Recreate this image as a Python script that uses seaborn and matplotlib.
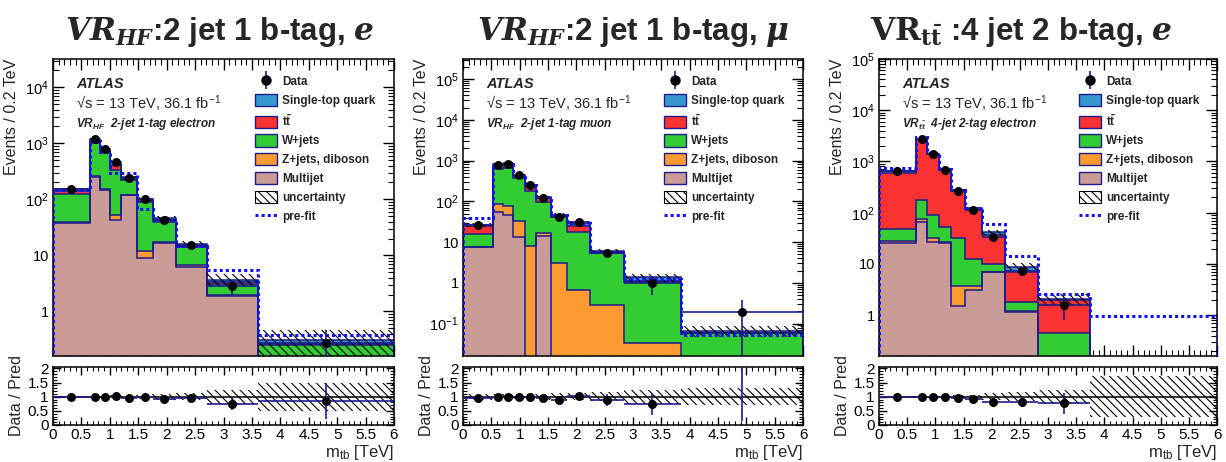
import numpy as np
import matplotlib
matplotlib.use("Agg")
import matplotlib.pyplot as plt
import seaborn as sns
from matplotlib.patches import Patch
from matplotlib.lines import Line2D
from matplotlib.legend_handler import HandlerTuple
from matplotlib.ticker import FixedLocator, FixedFormatter, MultipleLocator, LogLocator, NullFormatter

# ---- VR_HF 2-jet 1-tag electron ----
edges_e = [0, 0.65, 0.82, 1.0, 1.2, 1.47, 1.76, 2.16, 2.71, 3.6, 6.0]
multijet_e = [38, 250, 145, 42, 118, 9.1, 16.6, 6.3, 1.85, 0]
zjets_e = [1.5, 15, 8, 11, 3, 2.7, 0.4, 0.3, 0.1, 0]
wjets_e = [83, 735, 547, 287, 104, 77, 22, 7.4, 1.15, 0.25]
ttbar_e = [17, 120, 70, 65, 10, 7, 4.5, 1, 0.2, 0.01]
stop_e = [12, 60, 25, 50, 15, 6, 3, 1, 0.4, 0.055]
data_e = [152, 1180, 795, 468, 240, 100, 42.8, 15.4, 2.8, 0.27]
data_err_e = [7, 30, 25, 18, 14, 6, 3, 1.5, 0.8, 0.2]
prefit_e = [147, 1080, 690, 290, 295, 68, 42, 14.5, 5.4, 0.38]
unc_e = [0.03, 0.03, 0.03, 0.04, 0.05, 0.08, 0.1, 0.12, 0.25, 0.5]

# ---- VR_HF 2-jet 1-tag muon ----
edges_mu = [0, 0.53, 0.70, 0.89, 1.09, 1.29, 1.55, 1.84, 2.24, 2.84, 3.84, 6.0]
multijet_mu = [7.4, 56, 47, 13.3, 0, 14.3, 0, 0, 0, 0, 0]
zjets_mu = [0, 30, 28, 18.7, 7.8, 2.3, 3.05, 0.67, 0.28, 0.033, 0]
wjets_mu = [8.4, 534, 585, 343, 167, 77, 37, 17.3, 5.1, 1.04, 0.06]
ttbar_mu = [9.2, 100, 100, 45, 45, 26, 3, 7, 0.2, 0.05, 0]
stop_mu = [1.6, 80, 80, 25, 30, 7, 4, 4.5, 0.4, 0.23, 0.006]
data_mu = [25.8, 785, 830, 436, 250, 121, 42.3, 30.4, 5.3, 1.0, 0.19]
data_err_mu = [2, 12, 12, 9, 7, 4, 2.5, 2, 1.2, 0.5, 0.18]
prefit_mu = [38, 820, 820, 450, 250, 125, 46, 29, 5.8, 1.25, 0.053]
unc_mu = [0.1, 0.08, 0.08, 0.08, 0.08, 0.1, 0.12, 0.12, 0.15, 0.25, 0.3]

# ---- VR_ttbar 4-jet 2-tag electron ----
edges_tt = [0, 0.65, 0.86, 1.07, 1.27, 1.52, 1.83, 2.23, 2.83, 3.74, 6.0]
multijet_tt = [25.3, 65, 26.5, 26, 1.5, 3.05, 6.9, 1.16, 0, 0]
zjets_tt = [3.3, 9, 5.5, 1, 2.3, 0.75, 0.2, 0.04, 0, 0]
wjets_tt = [19.4, 102, 58, 26, 28, 8.8, 2.9, 0.6, 0.44, 0]
ttbar_tt = [550, 2454, 1290, 617, 228, 105, 26, 5.1, 1.51, 0]
stop_tt = [42, 170, 50, 30, 20, 5, 5.5, 2.0, 0.1, 0]
data_tt = [640, 2800, 1410, 690, 270, 112, 34, 7.3, 1.56, np.nan]
data_err_tt = [10, 25, 18, 12, 8, 5, 2.5, 1.6, 0.75, np.nan]
prefit_tt = [740, 2950, 1450, 720, 280, 125, 60, 14.6, 2.55, 0.95]
unc_tt = [0.02, 0.02, 0.02, 0.03, 0.05, 0.06, 0.12, 0.15, 0.25, 0.73]

process_labels = ["Single-top quark", r"$t\bar{t}$", "W+jets", "Z+jets, diboson", "Multijet"]
process_colors = ["#3797d0", "#fb3232", "#33cc33", "#fd9a32", "#c99a96"]
NAVY = "#1c1c8c"
PREFIT = "#1010ff"
HATCH = "\\\\\\\\"
FLOOR = 1e-6

sns.set_theme(style="ticks")
plt.rcParams["font.family"] = ["Liberation Sans", "DejaVu Sans"]
plt.rcParams["mathtext.fontset"] = "custom"
plt.rcParams["mathtext.it"] = "DejaVu Serif:italic:bold"
plt.rcParams["mathtext.bf"] = "DejaVu Serif:bold"
plt.rcParams["mathtext.rm"] = "Liberation Sans"
plt.rcParams["mathtext.default"] = "regular"
plt.rcParams["hatch.linewidth"] = 0.8
plt.rcParams["axes.linewidth"] = 1.1

W, H = 1226, 462
fig = plt.figure(figsize=(W / 100, H / 100), dpi=100)


def px_rect(x0, x1, y_top, y_bot):
    return [x0 / W, 1 - y_bot / H, (x1 - x0) / W, (y_bot - y_top) / H]


def style_ticks(a, size):
    a.tick_params(which="both", direction="in", top=True, right=True, colors="black",
                  labelsize=size, pad=3)
    a.tick_params(which="major", length=8, width=1)
    a.tick_params(which="minor", length=4, width=0.8)
    a.xaxis.set_major_locator(MultipleLocator(0.5))
    a.xaxis.set_minor_locator(MultipleLocator(0.1))
    for s in a.spines.values():
        s.set_color("black")


def draw_panel(x0, x1, edges, comps, data, derr, prefit, unc, ylim, decades, info, title, title_x):
    edges = np.array(edges)
    centers = 0.5 * (edges[:-1] + edges[1:])
    data = np.array(data, dtype=float)
    derr = np.array(derr, dtype=float)
    unc = np.array(unc)

    ax = fig.add_axes(px_rect(x0, x1, 59, 356))
    rax = fig.add_axes(px_rect(x0, x1, 367, 425))

    # stacked backgrounds: bottom (multijet) to top (single-top)
    stack_order = list(zip(comps[::-1], process_colors[::-1]))
    cum = np.full(len(centers), FLOOR)
    for vals, col in stack_order:
        top = cum + np.array(vals)
        ax.stairs(top, edges, baseline=cum, fill=True, color=col, lw=0, zorder=1)
        cum = top
    cum = np.full(len(centers), FLOOR)
    for vals, col in stack_order:
        cum = cum + np.array(vals)
        ax.stairs(cum, edges, baseline=FLOOR, fill=False, color=NAVY, lw=1.1, zorder=2)
    total = cum - FLOOR

    ax.stairs(np.maximum(total * (1 + unc), FLOOR), edges, baseline=np.maximum(total * (1 - unc), FLOOR),
              fill=True, facecolor="none", edgecolor="black", hatch=HATCH, lw=0, zorder=3)
    ax.stairs(prefit, edges, baseline=FLOOR, fill=False, color=PREFIT, lw=2.2,
              linestyle=(0, (1, 1)), zorder=4)

    ok = ~np.isnan(data)
    ax.hlines(data[ok], edges[:-1][ok], edges[1:][ok], color=NAVY, lw=1.2, zorder=5)
    ax.errorbar(centers[ok], data[ok], yerr=derr[ok], fmt="none", ecolor=NAVY, elinewidth=1.2, zorder=5)
    sns.scatterplot(x=centers[ok], y=data[ok], ax=ax, color="black", s=42, edgecolor="black",
                    linewidth=0, zorder=6, legend=False)

    ax.set_yscale("log")
    ax.set_xlim(0, 6)
    ax.set_ylim(*ylim)
    style_ticks(ax, 10.5)
    ax.tick_params(labelbottom=False)
    ax.yaxis.set_major_locator(FixedLocator([v for v, _ in decades]))
    ax.yaxis.set_major_formatter(FixedFormatter([s for _, s in decades]))
    ax.yaxis.set_minor_locator(LogLocator(base=10, subs=np.arange(2, 10), numticks=30))
    ax.yaxis.set_minor_formatter(NullFormatter())
    ax.set_ylabel("Events / 0.2 TeV", loc="top", fontsize=11.5)
    ax.yaxis.set_label_coords(-0.1, 1.0)

    # ATLAS label block
    ax.text(0.068, 0.916, "ATLAS", transform=ax.transAxes, fontsize=10.5, fontweight="bold",
            fontstyle="italic", va="center")
    ax.text(0.068, 0.848, "\u221as = 13 TeV, 36.1 fb$^{-1}$",
            transform=ax.transAxes, fontsize=10.5, va="center")
    ax.text(0.068, 0.781, info, transform=ax.transAxes, fontsize=8.5, fontweight="bold",
            fontstyle="italic", va="center")

    # legend
    h_data = (Line2D([], [], marker="|", ms=13, mew=1.2, color=NAVY, ls=""),
              Line2D([], [], marker="o", ms=6.5, color="black", ls=""))
    handles = [h_data]
    for lab, col in zip(process_labels, process_colors):
        handles.append(Patch(facecolor=col, edgecolor=NAVY, lw=1.0))
    handles.append(Patch(facecolor="white", edgecolor="black", hatch=HATCH, lw=0.8))
    handles.append(Line2D([], [], color=PREFIT, lw=2.2, ls=(0, (1, 1))))
    labels = ["Data"] + process_labels + ["uncertainty", "pre-fit"]
    ax.legend(handles, labels, loc="upper left", bbox_to_anchor=(0.592, 0.945), frameon=False,
              borderpad=0, borderaxespad=0, handlelength=1.85, handleheight=1.2, labelspacing=0.49,
              handletextpad=0.45, prop={"weight": "bold", "size": 8.5},
              handler_map={tuple: HandlerTuple(ndivide=1, pad=0)})

    # ratio panel
    rax.stairs(1 + unc, edges, baseline=1 - unc, fill=True, facecolor="none", edgecolor="black",
               hatch=HATCH, lw=0, zorder=1)
    rax.axhline(1, color="black", lw=1.1, zorder=2)
    safe_total = np.where(total > 0, total, np.nan)
    ratio = data / safe_total
    rerr = derr / safe_total
    rok = ~np.isnan(ratio)
    rax.hlines(ratio[rok], edges[:-1][rok], edges[1:][rok], color=NAVY, lw=1.2, zorder=3)
    rax.errorbar(centers[rok], ratio[rok], yerr=rerr[rok], fmt="none", ecolor=NAVY, elinewidth=1.2, zorder=3)
    sns.scatterplot(x=centers[rok], y=ratio[rok], ax=rax, color="black", s=42, linewidth=0,
                    zorder=4, legend=False)
    rax.set_xlim(0, 6)
    rax.set_ylim(0, 2.05)
    style_ticks(rax, 11)
    rax.tick_params(axis="x", pad=2)
    rax.yaxis.set_major_locator(FixedLocator([0, 0.5, 1, 1.5, 2]))
    rax.yaxis.set_major_formatter(FixedFormatter(["0", "0.5", "1", "1.5", "2"]))
    rax.yaxis.set_minor_locator(MultipleLocator(0.1))
    rax.xaxis.set_major_locator(FixedLocator([0, 0.5, 1, 1.5, 2, 2.5, 3, 3.5, 4, 4.5, 5, 5.5, 6]))
    rax.xaxis.set_major_formatter(FixedFormatter(["0", "0.5", "1", "1.5", "2", "2.5", "3", "3.5",
                                                  "4", "4.5", "5", "5.5", "6"]))
    rax.tick_params(which="major", length=6)
    rax.tick_params(which="minor", length=3)
    rax.set_ylabel("Data / Pred", fontsize=11.5)
    rax.yaxis.set_label_coords(-0.085, 0.5)

    fig.text(x1 / W, 1 - 443 / H, r"m$_{tb}$ [TeV]", ha="right", va="top", fontsize=12)
    fig.text(title_x / W, 1 - 40 / H, title, ha="center", va="baseline", fontsize=22.5,
             fontweight="bold")


dec_e = [(1, "1"), (10, "10"), (100, r"$10^{2}$"), (1000, r"$10^{3}$"), (1e4, r"$10^{4}$")]
dec_mu = [(0.1, r"$10^{-1}$"), (1, "1"), (10, "10"), (100, r"$10^{2}$"), (1000, r"$10^{3}$"),
          (1e4, r"$10^{4}$"), (1e5, r"$10^{5}$")]
dec_tt = [(1, "1"), (10, "10"), (100, r"$10^{2}$"), (1000, r"$10^{3}$"), (1e4, r"$10^{4}$"),
          (1e5, r"$10^{5}$")]

draw_panel(53, 394, edges_e, [stop_e, ttbar_e, wjets_e, zjets_e, multijet_e], data_e, data_err_e,
           prefit_e, unc_e, (0.16, 3.2e4), dec_e, r"VR$_{HF}$  2-jet 1-tag electron",
           r"$\mathit{VR_{HF}}$:2 jet 1 b-tag, $\mathit{e}$", 220)
draw_panel(463, 803, edges_mu, [stop_mu, ttbar_mu, wjets_mu, zjets_mu, multijet_mu], data_mu, data_err_mu,
           prefit_mu, unc_mu, (0.016, 3.1e5), dec_mu, r"VR$_{HF}$  2-jet 1-tag muon",
           r"$\mathit{VR_{HF}}$:2 jet 1 b-tag, $\mathit{\mu}$", 633)
draw_panel(879, 1217, edges_tt, [stop_tt, ttbar_tt, wjets_tt, zjets_tt, multijet_tt], data_tt, data_err_tt,
           prefit_tt, unc_tt, (0.16, 1e5), dec_tt, r"VR$_{t\bar{t}}$  4-jet 2-tag electron",
           r"$\mathbf{VR_{t\bar{t}}}$ :4 jet 2 b-tag, $\mathit{e}$", 1021)

fig.savefig("out.png", dpi=100)
